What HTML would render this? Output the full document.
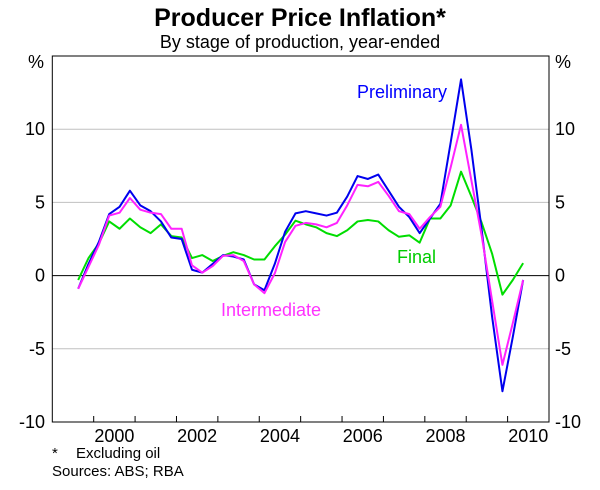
<!DOCTYPE html>
<html><head><meta charset="utf-8"><style>
body{margin:0;background:#fff;}
svg text{font-family:"Liberation Sans",Arial,sans-serif;}
</style></head><body>
<svg id="chart" width="600" height="485" viewBox="0 0 600 485" xmlns="http://www.w3.org/2000/svg">
<text x="300" y="26" text-anchor="middle" font-size="25" font-weight="bold">Producer Price Inflation*</text>
<text x="300" y="48" text-anchor="middle" font-size="18">By stage of production, year-ended</text>
<g id="grid"></g>
<g id="axes"></g>
<g id="series"></g>
<text x="357" y="98" font-size="18" fill="#0000ff">Preliminary</text>
<text x="397" y="263" font-size="18" fill="#00cc00">Final</text>
<text x="221" y="316" font-size="18" fill="#ff33ff">Intermediate</text>
<text x="52" y="458" font-size="15">*</text>
<text x="76" y="458" font-size="15">Excluding oil</text>
<text x="52" y="476" font-size="15">Sources: ABS; RBA</text>
</svg>
<script>
const startYear = 1999.625;
const preliminary = [-0.9,0.8,2.3,4.2,4.7,5.8,4.8,4.4,3.7,2.6,2.5,0.4,0.2,0.8,1.4,1.3,1.1,-0.6,-1.0,0.8,3.0,4.25,4.4,4.25,4.1,4.3,5.4,6.8,6.6,6.9,5.8,4.7,4.0,2.9,3.9,4.9,9.1,13.4,8.6,3.1,-2.8,-7.9,-4.2,-0.3];
const intermediate = [-0.9,0.6,2.1,4.1,4.3,5.3,4.5,4.3,4.2,3.2,3.2,0.7,0.2,0.65,1.35,1.4,1.0,-0.6,-1.2,0.15,2.3,3.4,3.6,3.5,3.3,3.6,4.8,6.2,6.1,6.4,5.45,4.4,4.2,3.2,4.0,4.7,7.4,10.3,6.5,2.7,-1.7,-6.1,-3.25,-0.3];
const finalStage = [-0.3,1.2,2.2,3.7,3.2,3.9,3.3,2.9,3.5,2.7,2.6,1.2,1.4,1.0,1.35,1.6,1.4,1.1,1.1,2.0,2.8,3.75,3.5,3.3,2.9,2.7,3.1,3.7,3.8,3.7,3.1,2.65,2.75,2.25,3.9,3.9,4.8,7.1,5.4,3.6,1.5,-1.3,-0.3,0.85];
const yTicks = [-10,-5,0,5,10];
const xYears = [2000,2002,2004,2006,2008,2010];
const L=52.3,R=549,T=56,B=422, Y0=1999,Y1=2011, V0=-10,V1=15;
const xs=t=>L+(t-Y0)/(Y1-Y0)*(R-L);
const ys=v=>B-(v-V0)/(V1-V0)*(B-T);
const NS="http://www.w3.org/2000/svg";
function mk(tag,attrs,parent,txt){const e=document.createElementNS(NS,tag);for(const k in attrs)e.setAttribute(k,attrs[k]);if(txt!==undefined)e.textContent=txt;parent.appendChild(e);return e;}
const grid=document.getElementById('grid'),axes=document.getElementById('axes'),ser=document.getElementById('series');
yTicks.forEach(v=>{
 if(v!==0&&v!==V0){const g=mk('line',{x1:L,x2:R,y1:ys(v),y2:ys(v),stroke:'#c0c0c0','stroke-width':1},grid);
 
 }
 const a=mk('text',{x:45,y:ys(v)+6,'text-anchor':'end','font-size':18},axes,String(v));
 
 
 const b=mk('text',{x:555,y:ys(v)+6,'font-size':18},axes,String(v));
 
 
});
const pl=mk('text',{x:44,y:68,'text-anchor':'end','font-size':18},axes,'%');


const pr=mk('text',{x:555,y:68,'font-size':18},axes,'%');


const zl=mk('line',{x1:L,x2:R,y1:ys(0),y2:ys(0),stroke:'#000','stroke-width':1},grid);


const fr=mk('rect',{x:L,y:T,width:R-L,height:B-T,fill:'none',stroke:'#000','stroke-width':1},axes);


for(let y=2000;y<=2010;y++){const t=mk('line',{x1:xs(y),x2:xs(y),y1:B,y2:B-6,stroke:'#000'},axes);
 
 }
xYears.forEach(y=>{const t=mk('text',{x:xs(y+0.5),y:B+20,'text-anchor':'middle','font-size':18},axes,String(y));
 
 });
function line(data,color,name){
 const d=data.map((v,i)=>(i?'L':'M')+xs(startYear+i*0.25).toFixed(2)+','+ys(v).toFixed(2)).join('');
 const p=mk('path',{d:d,fill:'none',stroke:color,'stroke-width':2,'stroke-linejoin':'round'},ser);
 
 
}
line(finalStage,'#00dd00','line-final');
line(preliminary,'#0000ee','line-preliminary');
line(intermediate,'#ff22ff','line-intermediate');
</script>
</body></html>
